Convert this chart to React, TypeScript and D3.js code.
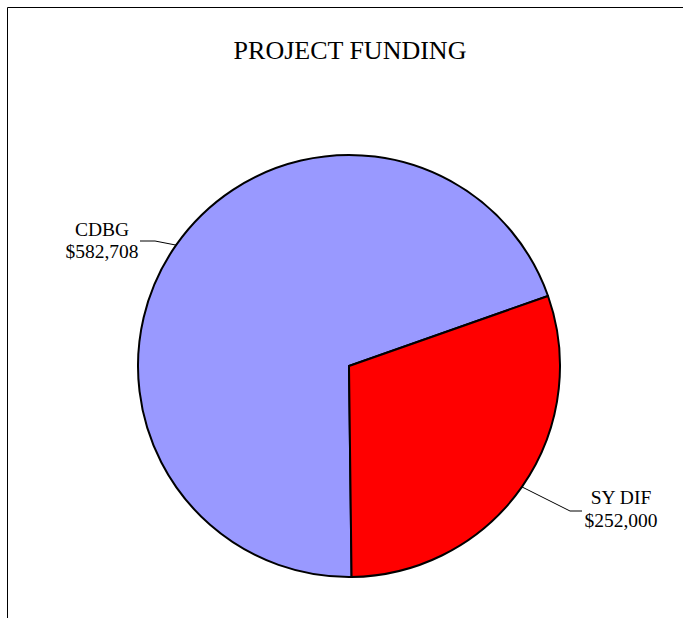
import React from "react";
import * as d3 from "d3";

const categories = ["CDBG", "SY DIF"];
const values = [582708, 252000];
const valueLabels = ["$582,708", "$252,000"];
const colors = ["#9999FF", "#FF0000"];

export default function App() {
  const W = 683, H = 618;
  const cx = 349, cy = 366, r = 211;
  const startDeg = 179.3;
  const pie = d3.pie<number>().sort(null)
    .startAngle((startDeg * Math.PI) / 180)
    .endAngle(((startDeg + 360) * Math.PI) / 180);
  const arcs = pie(values);
  const arc = d3.arc<d3.PieArcDatum<number>>().innerRadius(0).outerRadius(r);
  const font = "'Liberation Serif', 'Times New Roman', serif";

  const edge = (a: d3.PieArcDatum<number>) => {
    const ang = (a.startAngle + a.endAngle) / 2;
    return [cx + r * Math.sin(ang), cy - r * Math.cos(ang)];
  };
  const p0 = edge(arcs[0]);
  const p1 = edge(arcs[1]);

  return (
    <svg width={W} height={H} style={{ position: "absolute", left: 0, top: 0 }}>
      <rect x={0} y={0} width={W} height={H} fill="#fff" />
      <line x1={7.5} y1={7.5} x2={W} y2={7.5} stroke="#000" strokeWidth={1} />
      <line x1={7.5} y1={7.5} x2={7.5} y2={H} stroke="#000" strokeWidth={1} />
      <text x={350} y={59} textAnchor="middle" fontFamily={font} fontSize={26}>PROJECT FUNDING</text>
      <g transform={`translate(${cx},${cy})`}>
        {arcs.map((a, i) => (
          <path key={categories[i]} d={arc(a) || ""} fill={colors[i]} stroke="#000" strokeWidth={2} strokeLinejoin="round" />
        ))}
      </g>
      <polyline points={`140,241 155,241 ${p0[0]},${p0[1]}`} fill="none" stroke="#000" strokeWidth={1} />
      <polyline points={`${p1[0]},${p1[1]} 570,511 582,511`} fill="none" stroke="#000" strokeWidth={1} />
      <text x={102} y={236} textAnchor="middle" fontFamily={font} fontSize={19.5}>{categories[0]}</text>
      <text x={102} y={258} textAnchor="middle" fontFamily={font} fontSize={19.5}>{valueLabels[0]}</text>
      <text x={621} y={504} textAnchor="middle" fontFamily={font} fontSize={19.5}>{categories[1]}</text>
      <text x={621} y={527} textAnchor="middle" fontFamily={font} fontSize={19.5}>{valueLabels[1]}</text>
    </svg>
  );
}
